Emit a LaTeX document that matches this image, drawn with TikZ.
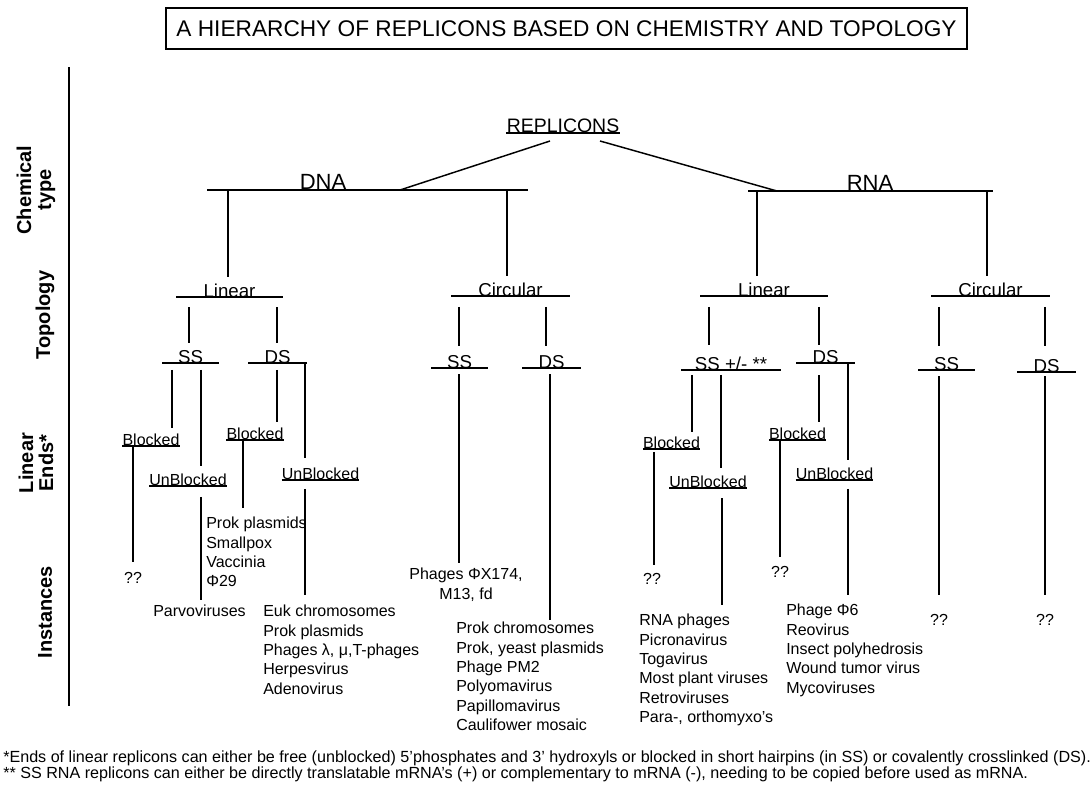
\documentclass[tikz,border=0pt]{standalone}
\usepackage{fontspec}
\setmainfont{Liberation Sans}
\usetikzlibrary{positioning}
\tikzset{
  titre/.style={draw, line width=1.2pt, font=\fontsize{17}{18}\selectfont,
                minimum width=801*0.75pt, minimum height=41*0.75pt, inner sep=0pt},
  cote/.style={font=\bfseries\fontsize{15}{15}\selectfont, rotate=90, align=center, inner sep=0pt},
  niveau/.style={font=\fontsize{14}{16}\selectfont, inner sep=0pt, outer sep=0pt,
                 text depth=0pt, anchor=south, minimum width=#1*0.75pt},
  niveau/.default=0,
  chimie/.style={font=\fontsize{16.5}{18}\selectfont, inner sep=0pt, text depth=0pt, anchor=south},
  bout/.style={font=\fontsize{12}{14}\selectfont, inner sep=0pt, text depth=0pt, anchor=south},
  liste/.style={font=\fontsize{12}{14.5}\selectfont, align=left, inner sep=0pt, anchor=north west},
  inst/.style={font=\fontsize{12}{14}\selectfont, inner sep=0pt},
  note/.style={font=\fontsize{12.1}{13}\selectfont, inner sep=0pt, anchor=base west},
  barre/.style={line width=2.2pt},
  souligne/.style={line width=1.2pt},
  lien/.style={line width=1.1pt},
}
% vertical drop at x=#1 from node #2 to node #3, gaps #4 and #5
\newcommand{\tige}[5]{\draw[lien, shorten <=#4, shorten >=#5] (#2 -| #1,0) -- (#3 -| #1,0);}

\begin{document}
\begin{tikzpicture}[x=0.75pt,y=-0.75pt]
  \useasboundingbox (0,0) rectangle (1091,789);

  % titre
  \node[titre] (titre) at (566.5,28.5) {A HIERARCHY OF REPLICONS BASED ON CHEMISTRY AND TOPOLOGY};

  % colonne des niveaux
  \coordinate (axeH) at (69,67);
  \coordinate (axeB) at (69,706);
  \draw[line width=1.3pt] (axeH) -- (axeB);
  \node[cote] (cChim) at (36,190) {Chemical\\type};
  \node[cote] (cTopo) at (45,315) {Topology};
  \node[cote] (cEnds) at (36,463) {Linear\\Ends*};
  \node[cote] (cInst) at (45,612) {Instances};

  % racine et chimie
  \node[bout, font=\fontsize{14.6}{16}\selectfont] (repl) at (563,133) {REPLICONS};
  \draw[souligne] (repl.south west) -- (repl.south east);
  \node[chimie] (dna) at (323,190) {DNA};
  \node[chimie] (rna) at (870,191) {RNA};
  \coordinate (dnaO) at (207,190); \coordinate (dnaE) at (528,190);
  \coordinate (rnaO) at (748,191); \coordinate (rnaE) at (993,191);
  \draw[barre] (dnaO) -- (dnaE);
  \draw[barre] (rnaO) -- (rnaE);
  \draw[lien] (550,141) -- (dnaE -| 400,0);
  \draw[lien] (600,141) -- (rnaE -| 777,0);

  % topologie
  \node[niveau=107] (dnaL) at (229.5,297) {Linear};
  \node[niveau=119] (dnaC) at (510.5,296) {Circular};
  \node[niveau=128] (rnaL) at (764,296) {Linear};
  \node[niveau=119] (rnaC) at (990.5,296) {Circular};
  \node[niveau=57] (dnaLss) at (190.5,363) {SS};
  \node[niveau=59] (dnaLds) at (277.5,363) {DS};
  \node[niveau=57] (dnaCss) at (459.5,368) {SS};
  \node[niveau=59] (dnaCds) at (551.5,368) {DS};
  \node[niveau=100] (rnaLss) at (731,370) {SS +/- **};
  \node[niveau=59] (rnaLds) at (825.5,363) {DS};
  \node[niveau=57] (rnaCss) at (946.5,370) {SS};
  \node[niveau=59] (rnaCds) at (1046.5,372) {DS};
  \foreach \n in {dnaL,dnaC,rnaL,rnaC,dnaLss,dnaLds,dnaCss,dnaCds,rnaLss,rnaLds,rnaCss,rnaCds}
    \draw[barre] (\n.south west) -- (\n.south east);

  % extremites lineaires
  \node[bout] (dBl1) at (151,446) {Blocked};
  \node[bout] (dUb1) at (188,486) {UnBlocked};
  \node[bout] (dBl2) at (255,440) {Blocked};
  \node[bout] (dUb2) at (320.5,480) {UnBlocked};
  \node[bout] (rBl1) at (671.5,449) {Blocked};
  \node[bout] (rUb1) at (708,488) {UnBlocked};
  \node[bout] (rBl2) at (797.5,440) {Blocked};
  \node[bout] (rUb2) at (834.5,480) {UnBlocked};
  \foreach \n in {dBl1,dUb1,dBl2,dUb2,rBl1,rUb1,rBl2,rUb2}
    \draw[souligne] (\n.south west) -- (\n.south east);

  % exemples
  \node[inst] (q1) at (133,578) {??};
  \node[liste] (iParvo) at (153,605) {Parvoviruses};
  \node[liste] (iProkp) at (206,517) {Prok plasmids\\Smallpox\\Vaccinia\\Φ29};
  \node[liste] (iEuk) at (263,605) {Euk chromosomes\\Prok plasmids\\Phages λ, μ,T-phages\\Herpesvirus\\Adenovirus};
  \node[liste, align=center, anchor=north] (iPhx) at (466,568) {Phages ΦX174,\\M13, fd};
  \node[liste] (iProkc) at (456,622) {Prok chromosomes\\Prok, yeast plasmids\\Phage PM2\\Polyomavirus\\Papillomavirus\\Caulifower mosaic};
  \node[inst] (q2) at (652,579) {??};
  \node[liste] (iRnaph) at (639,614) {RNA phages\\Picronavirus\\Togavirus\\Most plant viruses\\Retroviruses\\Para-, orthomyxo's};
  \node[inst] (q3) at (780,572) {??};
  \node[liste] (iPh6) at (786,604) {Phage Φ6\\Reovirus\\Insect polyhedrosis\\Wound tumor virus\\Mycoviruses};
  \node[inst] (q4) at (939,620) {??};
  \node[inst] (q5) at (1045,620) {??};

  % liens
  \tige{228}{dnaO}{dnaL.north}{0pt}{4.5pt}
  \tige{507}{dnaO}{dnaC.north}{0pt}{4.5pt}
  \tige{757}{rnaO}{rnaL.north}{0pt}{4.5pt}
  \tige{987}{rnaO}{rnaC.north}{0pt}{4.5pt}
  \tige{189}{dnaL.south}{dnaLss.north}{7.5pt}{4.9pt}
  \tige{277}{dnaL.south}{dnaLds.north}{7.5pt}{4.9pt}
  \tige{459}{dnaC.south}{dnaCss.north}{8.2pt}{7.1pt}
  \tige{546}{dnaC.south}{dnaCds.north}{8.2pt}{7.1pt}
  \tige{709}{rnaL.south}{rnaLss.north}{8.2pt}{8.6pt}
  \tige{819}{rnaL.south}{rnaLds.north}{8.2pt}{3.4pt}
  \tige{939}{rnaC.south}{rnaCss.north}{8.2pt}{8.6pt}
  \tige{1045}{rnaC.south}{rnaCds.north}{8.2pt}{10pt}
  \tige{172}{dnaLss.south}{dBl1.north}{5.2pt}{4.7pt}
  \tige{201}{dnaLss.south}{dUb1.north}{5.2pt}{6.2pt}
  \tige{277}{dnaLds.south}{dBl2.north}{5.2pt}{4.7pt}
  \tige{305}{dnaLds.south}{dUb2.north}{0pt}{7.7pt}
  \tige{459}{dnaCss.south}{iPhx.north}{4.5pt}{3.7pt}
  \tige{550}{dnaCds.south}{iProkc.north}{4.5pt}{1.5pt}
  \tige{692}{rnaLss.south}{rBl1.north}{3.7pt}{4pt}
  \tige{721}{rnaLss.south}{rUb1.north}{3.7pt}{6.2pt}
  \tige{819}{rnaLds.south}{rBl2.north}{9pt}{4.7pt}
  \tige{848}{rnaLds.south}{rUb2.north}{0pt}{6.2pt}
  \tige{939}{rnaCss.south}{q4.north}{4.5pt}{14.3pt}
  \tige{1045}{rnaCds.south}{q5.north}{3pt}{14.3pt}
  \tige{133}{dBl1.south}{q1.north}{0.7pt}{7.5pt}
  \tige{201}{dUb1.south}{iParvo.north}{8.2pt}{3.7pt}
  \tige{243}{dBl2.south}{iProkp.north}{0pt}{6.7pt}
  \tige{305}{dUb2.south}{iEuk.north}{6.7pt}{7.5pt}
  \tige{654}{rBl1.south}{q2.north}{2.2pt}{6pt}
  \tige{722}{rUb1.south}{iRnaph.north}{7.5pt}{6.7pt}
  \tige{780}{rBl2.south}{q3.north}{0pt}{6.7pt}
  \tige{848}{rUb2.south}{iPh6.north}{6.7pt}{6.7pt}

  % notes
  \node[note] (n1) at (3,762) {*Ends of linear replicons can either be free (unblocked) 5'phosphates and 3' hydroxyls or blocked in short hairpins (in SS) or covalently crosslinked (DS).};
  \node[note] (n2) at (3,778) {** SS RNA replicons can either be directly translatable  mRNA's (+) or complementary to mRNA (-), needing to be copied before used as mRNA.};
\end{tikzpicture}
\end{document}
